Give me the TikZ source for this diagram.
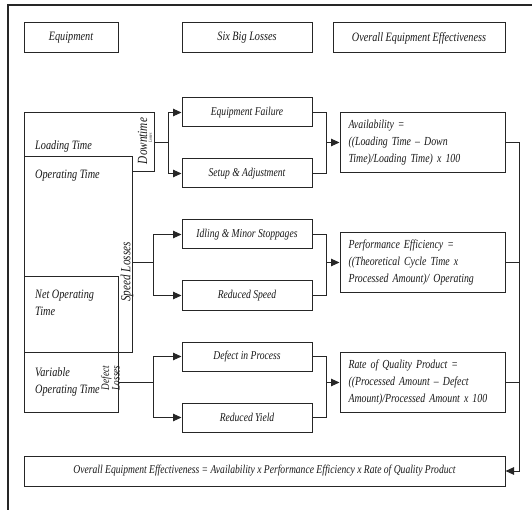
\documentclass[tikz,border=0pt]{standalone}
\usepackage{fontspec}
\setmainfont{Liberation Serif}[FakeStretch=0.8]
\usepackage{tikz}
\usetikzlibrary{arrows.meta,positioning,calc}

\begin{document}
\begin{tikzpicture}[x=1pt, y=-1pt, every node/.style={font=\itshape\fontsize{12}{17}\selectfont, text=black!90}]

	\tikzset{
	box/.style={draw=black!85, line width=1pt, inner sep=0pt, align=center},
	hdrbox/.style={box, minimum height=30pt},
	lossbox/.style={box, minimum width=130pt, minimum height=29pt},
	formbox/.style={box, minimum width=165pt, minimum height=60pt, text width=148pt, inner xsep=8.5pt, align=left, font=\itshape\fontsize{12.3}{17}\selectfont},
	timebox/.style={box, fill=white},
	timetext/.style={inner sep=0pt, anchor=west, align=left, font=\itshape\fontsize{12.8}{17}\selectfont},
	vlabel/.style={rotate=90, inner sep=0pt, align=center},
	link/.style={draw=black!85, line width=1pt},
	arr/.style={link, -{Triangle[length=8.5pt,width=7.5pt]}}
	}

	\useasboundingbox (0,0) rectangle (532,510);
	\draw[line width=1.6pt, black!85] (8,510) -- (8,5) -- (532,5);

	% Nodes
	\node[hdrbox, minimum width=94pt, font=\itshape\fontsize{12.8}{17}\selectfont] (equip) at (71,38) {Equipment};
	\node[hdrbox, minimum width=130pt, font=\itshape\fontsize{12.8}{17}\selectfont] (six) at (247,38) {Six Big Losses};
	\node[hdrbox, minimum width=172pt, font=\itshape\fontsize{12.8}{17}\selectfont] (oee) at (419,38) {Overall Equipment Effectiveness};

	\node[lossbox] (fail) at (247,112.5) {Equipment Failure};
	\node[lossbox, below=31pt of fail] (setup) {Setup \& Adjustment};
	\node[lossbox, below=31pt of setup] (idle) {Idling \& Minor Stoppages};
	\node[lossbox, below=31pt of idle] (speed) {Reduced Speed};
	\node[lossbox, below=31pt of speed] (defect) {Defect in Process};
	\node[lossbox, below=31pt of defect] (yield) {Reduced Yield};

	\node[formbox] (avail) at (422.5,142.5) {Availability =\\((Loading Time -- Down\\Time)/Loading Time) x 100};
	\node[formbox] (perf) at (422.5,262.5) {Performance Efficiency =\\((Theoretical Cycle Time x\\Processed Amount)/ Operating};
	\node[formbox] (rate) at (422.5,382.5) {Rate of Quality Product =\\((Processed Amount -- Defect\\Amount)/Processed Amount x 100};

	\node[hdrbox, minimum width=481pt] (total) at (264.5,471) {Overall Equipment Effectiveness = Availability x Performance Efficiency x Rate of Quality Product};

	\node[timebox, minimum width=130pt, minimum height=59pt] (loading) at (89,142.5) {};
	\node[timebox, minimum width=108pt, minimum height=195pt] (operating) at (78,254.5) {};
	\node[timebox, minimum width=94pt, minimum height=75pt] (net) at (71,314.5) {};
	\node[timebox, minimum width=94pt, minimum height=60pt] (variable) at (71,382) {};

	\node[timetext] (loadtxt) at (35,146) {Loading Time};
	\node[timetext] (optxt) at (35,176) {Operating Time};
	\node[timetext] (nettxt) at (35,302.5) {Net Operating\\Time};
	\node[timetext] (vartxt) at (35,381.5) {Variable\\Operating Time};

	\node[vlabel, font=\itshape\fontsize{14}{14}\selectfont] (downlbl) at (142.5,141) {Downtime};
	\node[vlabel, font=\itshape\fontsize{4.5}{4.5}\selectfont] (downsub) at (150.5,138) {Losses};
	\node[vlabel, font=\itshape\fontsize{14}{14}\selectfont] (speedlbl) at (127,272) {Speed Losses};
	\node[vlabel, font=\itshape\fontsize{11.5}{10.5}\selectfont] (defectlbl) at (110.5,378) {Defect\\Losses};

	% Branch points
	\coordinate (dbr) at (168,142.5);
	\coordinate (sbr) at (153,262.5);
	\coordinate (qbr) at (153,382.5);
	\coordinate (abr) at (326,142.5);
	\coordinate (pbr) at (326,262.5);
	\coordinate (rbr) at (326,382.5);
	\coordinate (obr) at (519,471);

	% Lines
	\draw[link] (loading.east) -- (dbr);
	\draw[arr] (dbr) |- (fail.west);
	\draw[arr] (dbr) |- (setup.west);

	\draw[link] (operating.east |- sbr) -- (sbr);
	\draw[arr] (sbr) |- (idle.west);
	\draw[arr] (sbr) |- (speed.west);

	\draw[link] (variable.east |- qbr) -- (qbr);
	\draw[arr] (qbr) |- (defect.west);
	\draw[arr] (qbr) |- (yield.west);

	\draw[link] (fail.east) -| (abr);
	\draw[link] (setup.east) -| (abr);
	\draw[arr] (abr) -- (avail.west);

	\draw[link] (idle.east) -| (pbr);
	\draw[link] (speed.east) -| (pbr);
	\draw[arr] (pbr) -- (perf.west);

	\draw[link] (defect.east) -| (rbr);
	\draw[link] (yield.east) -| (rbr);
	\draw[arr] (rbr) -- (rate.west);

	\draw[arr] (avail.east) -| (obr) -- (total.east);
	\draw[link] (perf.east) -- (perf.east -| obr);
	\draw[link] (rate.east) -- (rate.east -| obr);

\end{tikzpicture}
\end{document}
